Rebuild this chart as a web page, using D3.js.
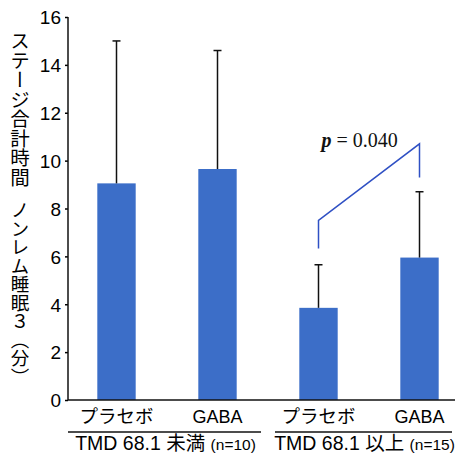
<!DOCTYPE html>
<html>
<head>
<meta charset="utf-8">
<script src="https://cdn.jsdelivr.net/npm/d3@7"></script>
<style>
  html, body { margin: 0; padding: 0; background: #fff; }
  svg { display: block; }
</style>
</head>
<body>
<div id="chart"></div>
<script>
// Sleep-stage N3 total time (minutes), by TMD score group and treatment
const categories = ["プラセボ", "GABA", "プラセボ", "GABA"];
const means = [9.05, 9.65, 3.85, 5.95];
const sds = [5.95, 4.95, 1.8, 2.75];
const groups = ["TMD 68.1 未満", "TMD 68.1 以上"];
const groupN = ["(n=10)", "(n=15)"];
const yTicks = [0, 2, 4, 6, 8, 10, 12, 14, 16];
const yLabelParts = ["ステージ合計時間", "ノンレム睡眠３（分）"];
// significance bracket between bars 3 and 4 (y levels in minutes)
const bracketFrom = 2, bracketTo = 3;
const bracketLevels = [6.33, 7.5, 10.7, 9.3];
const pLabel = "0.040";

const W = 461, H = 455;
const barColor = "#3c6ec8";
const bracketColor = "#2f50c4";
const sans = "'Liberation Sans', Arial, 'Noto Sans CJK JP', sans-serif";
const cjk = "'Noto Sans CJK JP', sans-serif";

const svg = d3.select("#chart").append("svg")
  .attr("width", W).attr("height", H);

const x = d3.scaleBand()
  .domain(d3.range(categories.length))
  .range([66, 470])
  .paddingInner(0.62)
  .paddingOuter(0.31);

const y = d3.scaleLinear().domain([0, 16]).range([400, 17]);

const axisX0 = 68, axisX1 = 455;

// bars
svg.append("g").selectAll("rect")
  .data(means)
  .join("rect")
  .attr("x", (d, i) => x(i))
  .attr("y", d => y(d))
  .attr("width", x.bandwidth())
  .attr("height", d => y(0) - y(d))
  .attr("fill", barColor);

// error bars (upper only)
const eb = svg.append("g").attr("stroke", "#111").attr("stroke-width", 1.5);
means.forEach((m, i) => {
  const cx = x(i) + x.bandwidth() / 2;
  eb.append("line")
    .attr("x1", cx).attr("x2", cx)
    .attr("y1", y(m)).attr("y2", y(m + sds[i]));
  eb.append("line")
    .attr("x1", cx - 4).attr("x2", cx + 4)
    .attr("y1", y(m + sds[i])).attr("y2", y(m + sds[i]));
});

// y axis
const yAxis = d3.axisLeft(y).tickValues(yTicks).tickSize(3).tickPadding(4);
const gy = svg.append("g").attr("transform", `translate(${axisX0},0)`).call(yAxis);
gy.select(".domain").remove();
gy.selectAll(".tick line").attr("stroke", "#000").attr("stroke-width", 1.5);
gy.selectAll(".tick text")
  .attr("font-family", sans).attr("font-size", 19).attr("fill", "#000")
  .attr("dy", "0.36em");
svg.append("line")
  .attr("x1", axisX0).attr("x2", axisX0)
  .attr("y1", y(16)).attr("y2", y(0))
  .attr("stroke", "#111").attr("stroke-width", 1.5);

// x axis baseline
svg.append("line")
  .attr("x1", axisX0).attr("x2", axisX1)
  .attr("y1", y(0)).attr("y2", y(0))
  .attr("stroke", "#111").attr("stroke-width", 1.5);

// category labels
svg.append("g").selectAll("text")
  .data(categories)
  .join("text")
  .attr("x", (d, i) => x(i) + x.bandwidth() / 2)
  .attr("y", 423)
  .attr("text-anchor", "middle")
  .attr("font-family", (d) => /[A-Z]/.test(d) ? sans : cjk)
  .attr("font-size", (d) => /[A-Z]/.test(d) ? 18 : 18.5)
  .attr("fill", "#000")
  .text(d => d);

// group underlines and labels
const mid = (x(1) + x(2) + x.bandwidth()) / 2;
const groupSpans = [[axisX0, mid - 7], [mid + 7, axisX1 - 3]];
groupSpans.forEach((s, gi) => {
  svg.append("line")
    .attr("x1", s[0]).attr("x2", s[1])
    .attr("y1", 432).attr("y2", 432)
    .attr("stroke", "#111").attr("stroke-width", 1.5);
  const t = svg.append("text")
    .attr("x", (s[0] + s[1]) / 2 + 1)
    .attr("y", 450)
    .attr("text-anchor", "middle")
    .attr("font-family", sans)
    .attr("font-size", 19.5)
    .attr("fill", "#000");
  t.append("tspan").text(groups[gi] + " ");
  t.append("tspan").attr("font-size", 15.5).text(groupN[gi]);
});

// significance bracket
const bxL = x(bracketFrom) + x.bandwidth() / 2;
const bxR = x(bracketTo) + x.bandwidth() / 2;
const bracketPts = [
  [bxL, y(bracketLevels[0])],
  [bxL, y(bracketLevels[1])],
  [bxR, y(bracketLevels[2])],
  [bxR, y(bracketLevels[3])]
];
svg.append("path")
  .attr("d", d3.line()(bracketPts))
  .attr("fill", "none")
  .attr("stroke", bracketColor)
  .attr("stroke-width", 1.5);

const pt = svg.append("text")
  .attr("x", bxL + 3)
  .attr("y", y(10.57))
  .attr("font-family", "'Liberation Serif', 'Times New Roman', serif")
  .attr("font-size", 20)
  .attr("fill", "#111");
pt.append("tspan").attr("font-style", "italic").attr("font-weight", "bold").text("p");
pt.append("tspan").text(" = " + pLabel);

// vertical y-axis title, set in two runs with a gap between them
const titleRuns = [
  { text: yLabelParts[0], top: 31, size: 19.5 },
  { text: yLabelParts[1], top: 201, size: 18.5 }
];
svg.append("g").selectAll("text")
  .data(titleRuns)
  .join("text")
  .attr("x", 20)
  .attr("y", d => d.top)
  .style("writing-mode", "vertical-rl")
  .attr("font-family", cjk)
  .attr("font-size", d => d.size)
  .attr("fill", "#000")
  .text(d => d.text);
</script>
</body>
</html>
